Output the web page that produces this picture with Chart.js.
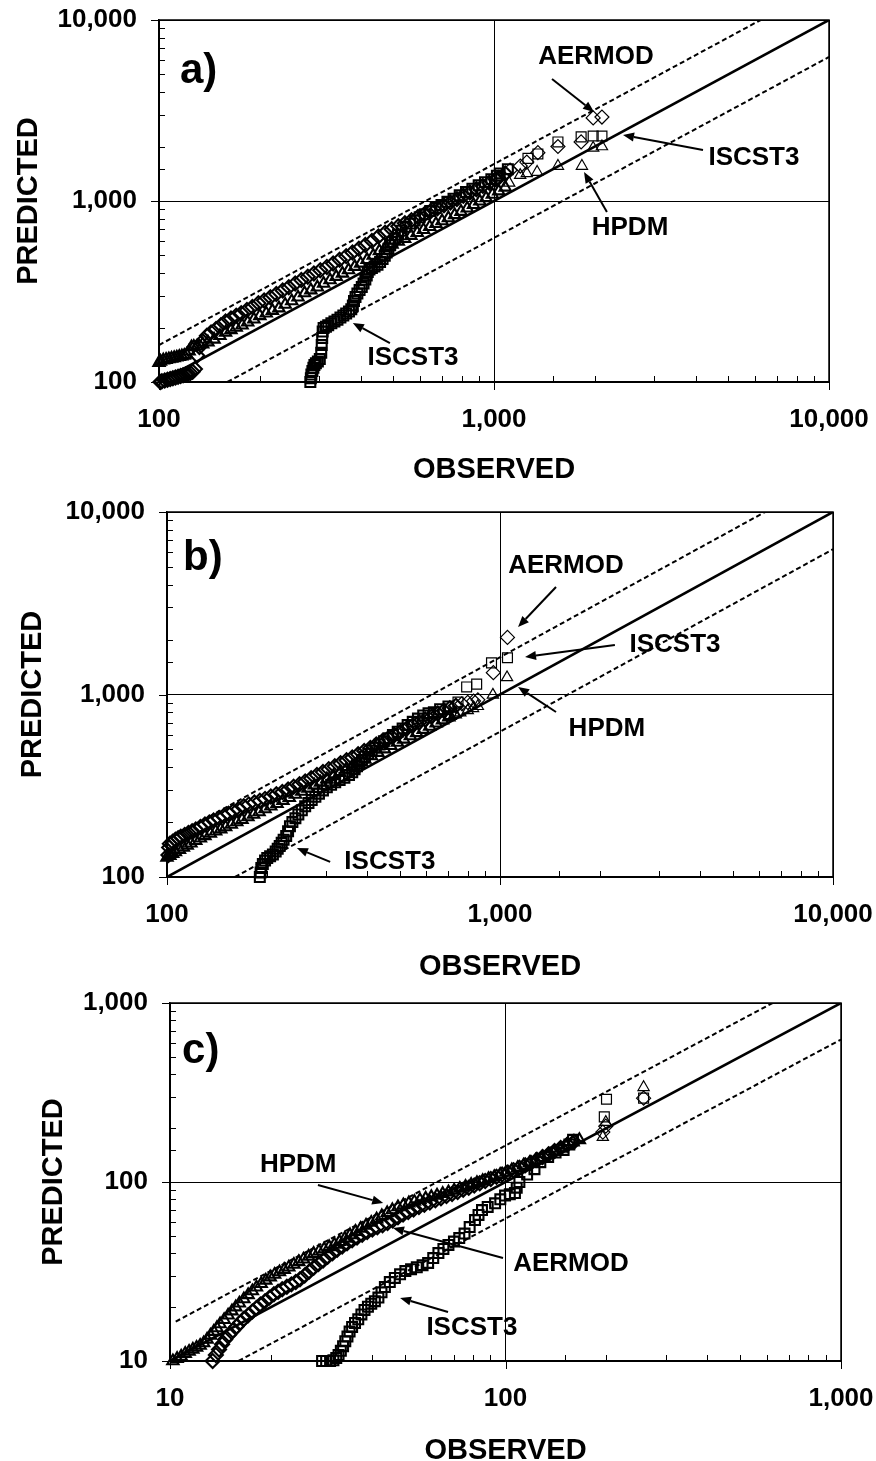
<!DOCTYPE html>
<html><head><meta charset="utf-8">
<script src="https://cdn.jsdelivr.net/npm/chart.js@4.4.1/dist/chart.umd.min.js"></script>
<style>
html,body{margin:0;padding:0;background:#fff;overflow:hidden;width:876px;height:1461px;}
canvas{position:absolute;left:0;}
</style></head><body>
<canvas id="ca" width="876" height="500" style="top:0px"></canvas>
<canvas id="cb" width="876" height="500" style="top:490px"></canvas>
<canvas id="cc" width="876" height="500" style="top:980px"></canvas>
<script>
// ---------- DATA: panel a) ----------
const aAERMOD = [[101,100],[102,101],[104,102],[106,103],[108,104],[110,105],[112,106],[114,107],[116,108],[118,109],[120,110],[122,111],[124,112],[126,114],[128,118],[130,140],[132,156],[135,168],[139,180],[143,188],[148,196],[153,206],[158,216],[164,224],[170,232],[176,240],[183,250],[190,260],[198,272],[206,282],[215,294],[224,306],[234,320],[244,334],[255,350],[266,366],[278,382],[290,398],[303,414],[317,432],[331,452],[346,474],[362,496],[378,520],[395,544],[413,572],[432,602],[452,636],[473,668],[495,698],[518,726],[542,754],[567,784],[593,815],[620,846],[648,880],[678,912],[709,946],[741,982],[775,1024],[810,1068],[847,1114],[886,1162],[926,1212],[968,1262],[1012,1320],[1030,1340],[1080,1420],[1117,1480],[1198,1560],[1253,1640],[1352,1850],[1552,2000],[1820,2120],[1977,2877],[2100,2910]];
const aHPDM = [[100,128],[101,130],[103,132],[105,133],[107,134],[109,135],[111,136],[113,137],[115,138],[117,139],[119,140],[121,142],[123,148],[125,156],[127,157],[130,158],[135,162],[140,166],[146,172],[152,180],[158,188],[164,194],[170,200],[177,206],[184,214],[192,222],[200,232],[209,240],[218,248],[228,256],[238,268],[249,280],[260,294],[272,310],[284,322],[297,334],[310,350],[324,366],[338,382],[353,398],[368,416],[384,434],[400,452],[418,474],[436,500],[455,530],[475,556],[496,576],[518,598],[541,620],[565,644],[590,668],[616,694],[643,720],[671,748],[700,776],[731,806],[763,838],[797,874],[832,912],[869,954],[907,996],[947,1040],[989,1086],[1033,1134],[1080,1190],[1110,1260],[1197,1390],[1253,1420],[1345,1445],[1552,1560],[1830,1560],[1977,1964],[2100,2000]];
const aISCST3 = [[283,100],[284,105],[285,110],[287,115],[289,120],[291,124],[294,127],[298,130],[302,134],[305,145],[306,160],[307,175],[308,190],[310,199],[315,202],[320,206],[327,211],[334,216],[341,221],[348,227],[355,233],[362,239],[369,245],[375,252],[379,265],[382,280],[386,295],[391,308],[397,322],[403,335],[408,350],[413,368],[417,388],[420,405],[425,418],[432,426],[440,434],[449,445],[457,460],[465,478],[472,498],[478,520],[484,545],[490,570],[497,595],[506,620],[517,650],[530,685],[545,720],[562,750],[580,780],[600,812],[622,845],[645,880],[670,915],[697,950],[726,990],[757,1030],[790,1075],[825,1120],[862,1170],[900,1220],[940,1270],[982,1320],[1020,1380],[1040,1420],[1100,1500],[1263,1720],[1352,1820],[1552,2120],[1820,2260],[1977,2286],[2100,2286]];
// ---------- DATA: panel b) ----------
const bAERMOD = [[101,132],[101.5,145],[102,152],[104,156],[106,160],[108,163],[110,166],[113,170],[116,174],[119,178],[122,182],[126,188],[130,194],[134,199],[138,204],[143,210],[148,216],[153,222],[158,229],[164,236],[170,244],[176,250],[183,256],[190,262],[197,268],[205,276],[213,284],[222,292],[231,302],[240,312],[250,322],[260,334],[271,348],[282,362],[294,376],[306,390],[319,404],[332,420],[346,436],[360,452],[375,470],[391,490],[408,510],[425,532],[443,554],[462,576],[482,600],[503,626],[525,652],[548,678],[572,704],[597,730],[623,758],[650,786],[678,814],[707,842],[737,868],[768,890],[800,906],[833,920],[858,935],[955,1317],[1053,2055]];
const bHPDM = [[100,128],[102,131],[104,134],[106,137],[109,141],[112,145],[115,149],[118,153],[122,158],[126,163],[130,168],[135,173],[140,178],[145,183],[150,188],[156,194],[162,200],[168,206],[175,213],[182,220],[189,227],[197,236],[205,244],[214,252],[223,262],[233,272],[243,283],[254,294],[265,306],[277,318],[289,330],[302,344],[316,358],[330,373],[345,389],[360,405],[376,422],[393,440],[411,460],[430,480],[450,502],[470,524],[492,546],[514,568],[538,592],[562,616],[588,642],[615,668],[643,696],[672,724],[702,752],[707,765],[733,780],[760,795],[800,818],[830,840],[858,862],[952,995],[1050,1240]];
const bISCST3 = [[190,100],[191,106],[192,112],[194,118],[197,123],[200,127],[204,130],[208,133],[212,138],[215,143],[218,148],[221,154],[224,160],[228,168],[231,178],[234,190],[238,200],[243,210],[248,220],[254,232],[260,244],[266,254],[272,264],[279,275],[286,286],[294,298],[302,310],[311,320],[320,330],[330,340],[341,350],[352,362],[360,375],[366,390],[372,405],[378,420],[385,438],[393,456],[402,474],[412,492],[423,512],[435,532],[448,554],[462,576],[477,600],[493,625],[510,652],[528,680],[547,708],[567,738],[588,768],[610,790],[633,800],[661,830],[700,860],[748,910],[794,1100],[851,1140],[943,1490],[1053,1590]];
// ---------- DATA: panel c) ----------
const cAERMOD = [[13.4,10],[13.7,10.8],[14.0,11.6],[14.3,12.4],[14.6,13.2],[15.0,14],[15.4,14.8],[15.8,15.6],[16.2,16.4],[16.6,17.2],[17.1,18],[17.6,18.9],[18.1,19.8],[18.6,20.7],[19.2,21.6],[19.8,22.6],[20.4,23.6],[21.0,24.4],[21.6,25.2],[22.3,26],[23.0,26.8],[23.7,27.6],[24.4,28.6],[25.2,30],[26.0,31.6],[26.8,33.2],[27.7,34.8],[28.6,36.4],[29.5,38.2],[30.5,40],[31.5,41.8],[32.6,43.6],[33.7,45.4],[34.9,47.2],[36.1,49],[37.4,50.8],[38.7,52.6],[40.1,54.2],[41.5,55.8],[43,57.4],[44.5,59],[46.1,61],[47.8,63.5],[49.5,65.8],[51.3,68],[53.2,70.2],[55.2,72.4],[57.3,74.6],[59.5,76.8],[61.8,79],[64.2,81.2],[66.7,83.4],[69.3,85.6],[72,88],[74.8,90.4],[77.7,93],[80.7,95.6],[83.8,98.4],[87,101.2],[90.4,104],[94,107],[97.7,110],[101.6,113],[105.7,116.5],[110,120],[114.5,124],[119,128],[124,133],[129,138],[134.5,143],[140,149],[146,155],[153,162],[160,168],[195,190],[199,205],[258,294]];
const cHPDM = [[10.2,10],[10.5,10.3],[10.8,10.6],[11.1,11],[11.4,11.3],[11.7,11.6],[12.0,11.9],[12.3,12.2],[12.6,12.6],[12.9,13.2],[13.2,13.9],[13.5,14.6],[13.8,15.3],[14.1,16.1],[14.5,17],[14.9,18],[15.3,19],[15.7,20],[16.1,21],[16.6,22.2],[17.1,23.4],[17.6,24.6],[18.1,25.8],[18.7,27],[19.3,28.2],[19.9,29.4],[20.5,30.4],[21.2,31.4],[21.9,32.4],[22.6,33.4],[23.4,34.6],[24.2,35.8],[25.0,37],[25.9,38.4],[26.8,39.8],[27.8,41],[28.8,42.2],[29.8,43.4],[30.9,44.8],[32.0,46.4],[33.2,48.4],[34.4,50.6],[35.7,52.8],[37.0,55],[38.4,57.2],[39.8,59.4],[41.3,62],[42.8,64.6],[44.4,67.2],[46.0,69.8],[47.8,72.5],[49.6,74.4],[51.5,76.2],[53.5,77.8],[55.6,79.4],[57.8,81],[60.1,82.6],[62.5,84.2],[65,86],[67.6,87.8],[70.3,89.8],[73.1,92],[76,94.2],[79,96.6],[82.2,99],[85.5,101.6],[89,104.2],[92.6,107],[96.4,110],[100.3,113],[104.4,116.5],[108.7,120],[113.2,124],[118,128],[123,132],[128.5,137],[134,142],[140,148],[146,154],[152,160],[159,167],[166,172],[195,178],[199,216],[258,338]];
const cISCST3 = [[28.4,10],[29.2,10],[30.0,10],[30.7,10.1],[31.3,10.4],[31.8,10.8],[32.3,11.4],[32.8,12.1],[33.3,12.9],[33.8,13.7],[34.3,14.6],[34.9,15.5],[35.6,16.3],[36.4,17.1],[37.2,18.2],[38.0,19.3],[38.9,20.1],[39.8,20.9],[40.8,21.6],[41.8,22.6],[42.7,24.2],[43.7,25.9],[45.2,27.6],[46.8,29.1],[48.5,30.5],[50.3,31.8],[52.3,32.6],[54.4,33.4],[56.6,34.3],[58.8,35.3],[60.9,37.6],[63.1,40.1],[65.3,42.3],[67.6,44.5],[70.2,46.5],[72.8,48.6],[75.5,51.5],[78.2,56],[81.1,61.3],[83.1,65.5],[85.1,69.7],[88.5,72.6],[93.1,76],[96.5,80],[99.7,84],[103,85.5],[106.7,86.7],[108,93],[110,100],[116,110],[122,118],[127,129],[134,138],[141,146],[149,151],[155,162],[159,172],[197,231],[200,290],[258,294]];
// ---------- reference lines (1:1 and band) ----------
const abOneToOne = [[100,100],[10000,10000]];
const abUpper = [[100,160],[6250,10000]];
const abLower = [[160,100],[10000,6250]];
const cOneToOne = [[10,10],[1000,1000]];
const cUpper = [[10.4,16.6],[625,1000]];
const cLower = [[16,10],[1000,625]];
// ---------- axis ranges & texts ----------
const abRange = [100, 10000];
const cRange = [10, 1000];
const xTitle = 'OBSERVED';
const yTitle = 'PREDICTED';

// ---------- annotations (data-space anchors) ----------
const annA = {
  labels: [
    {text:'a)', x:115.5, y:4487, size:42, align:'left', baseline:'alphabetic'},
    {text:'AERMOD', x:2016, y:6247, size:26},
    {text:'ISCST3', x:5970, y:1728, size:26},
    {text:'HPDM', x:2547, y:710, size:26},
    {text:'ISCST3', x:573, y:136, size:26}
  ],
  arrows: [
    {from:[1490,4720], to:[1989,3103]},
    {from:[4207,1913], to:[2427,2315]},
    {from:[2173,869], to:[1857,1445]},
    {from:[489,164], to:[379,212]}
  ]
};
const annB = {
  labels: [
    {text:'b)', x:111.7, y:4808, size:42, align:'left', baseline:'alphabetic'},
    {text:'AERMOD', x:1578, y:5058, size:26},
    {text:'ISCST3', x:3353, y:1867, size:26},
    {text:'HPDM', x:2094, y:647, size:26},
    {text:'ISCST3', x:467, y:121, size:26}
  ],
  arrows: [
    {from:[1473,3882], to:[1133,2343]},
    {from:[2213,1867], to:[1189,1605]},
    {from:[1473,802], to:[1133,1099]},
    {from:[309,121], to:[245.5,144]}
  ]
};
const annC = {
  labels: [
    {text:'c)', x:10.86, y:462, size:42, align:'left', baseline:'alphabetic'},
    {text:'HPDM', x:24.1, y:124.4, size:26},
    {text:'AERMOD', x:156.7, y:34.8, size:26},
    {text:'ISCST3', x:79.4, y:15.3, size:26}
  ],
  arrows: [
    {from:[27.6,96.2], to:[43.2,76.3]},
    {from:[98.3,37.6], to:[46.2,55.3]},
    {from:[67.4,18.8], to:[48.5,22.5]}
  ]
};

// ---------- rendering ----------
const FONT = "'Liberation Sans', Arial, Helvetica, sans-serif";
Chart.defaults.font.family = FONT;
Chart.defaults.color = '#000';

function isMajor(v){ const l = Math.log10(v); return Math.abs(l - Math.round(l)) < 1e-6; }
const toXY = arr => arr.map(p => ({x:p[0], y:p[1]}));

function drawArrow(ctx, x1, y1, x2, y2){
  const ang = Math.atan2(y2 - y1, x2 - x1);
  const L = 11, W = 4.5;
  const bx = x2 - L*Math.cos(ang), by = y2 - L*Math.sin(ang);
  ctx.beginPath(); ctx.moveTo(x1, y1); ctx.lineTo(bx, by); ctx.stroke();
  ctx.beginPath();
  ctx.moveTo(x2, y2);
  ctx.lineTo(bx + W*Math.sin(ang), by - W*Math.cos(ang));
  ctx.lineTo(bx - W*Math.sin(ang), by + W*Math.cos(ang));
  ctx.closePath(); ctx.fill();
}

function makePanel(id, geo, series, lines, range, ann){
  const decor = {
    id: 'decor' + id,
    afterDatasetsDraw(chart){
      const ctx = chart.ctx, a = chart.chartArea, xs = chart.scales.x, ys = chart.scales.y;
      ctx.save();
      ctx.strokeStyle = '#000'; ctx.fillStyle = '#000';
      ctx.lineWidth = 1;
      ctx.beginPath();
      xs.ticks.forEach(t => {
        const p = Math.round(xs.getPixelForValue(t.value)) + 0.5;
        if (isMajor(t.value)) { ctx.moveTo(p, a.bottom); ctx.lineTo(p, a.bottom + 8); }
        else { ctx.moveTo(p, a.bottom); ctx.lineTo(p, a.bottom - 6); }
      });
      ys.ticks.forEach(t => {
        const p = Math.round(ys.getPixelForValue(t.value)) + 0.5;
        if (isMajor(t.value)) { ctx.moveTo(a.left, p); ctx.lineTo(a.left - 8, p); }
        else { ctx.moveTo(a.left, p); ctx.lineTo(a.left + 6, p); }
      });
      ctx.stroke();
      ctx.lineWidth = 1.5;
      ctx.strokeRect(a.left, a.top, a.right - a.left, a.bottom - a.top);
      ann.labels.forEach(l => {
        ctx.font = 'bold ' + l.size + 'px ' + FONT;
        ctx.textAlign = l.align || 'center';
        ctx.textBaseline = l.baseline || 'middle';
        ctx.fillText(l.text, xs.getPixelForValue(l.x), ys.getPixelForValue(l.y));
      });
      ctx.lineWidth = 2;
      ann.arrows.forEach(r => drawArrow(ctx, xs.getPixelForValue(r.from[0]), ys.getPixelForValue(r.from[1]), xs.getPixelForValue(r.to[0]), ys.getPixelForValue(r.to[1])));
      ctx.restore();
    }
  };
  // dense part of each Q-Q curve drawn with heavier outlines (overlapping symbols look black)
  const bw = c => (c.raw && c.raw.x > geo.sparseX) ? 1.2 : 2.1;
  const markerDs = (pts, style, radius) => ({
    data: toXY(pts), showLine: false, pointStyle: style, pointRadius: radius,
    pointBorderColor: '#000', pointBackgroundColor: 'rgba(0,0,0,0)', pointBorderWidth: bw,
    clip: false, order: 0
  });
  const lineDs = (pts, width, dash) => ({
    data: toXY(pts), showLine: true, borderColor: '#000', borderWidth: width, borderDash: dash,
    pointRadius: 0, fill: false, order: 1
  });
  const tickCb = v => isMajor(v) ? Number(v).toLocaleString('en-US') : '';
  const gridCol = c => (c.tick && isMajor(c.tick.value)) ? '#000' : 'rgba(0,0,0,0)';
  const axisBase = {
    type: 'logarithmic', min: range[0], max: range[1],
    border: {display: true, color: '#000', width: 1.5},
    grid: {drawOnChartArea: true, drawTicks: true, tickLength: 22, color: gridCol, tickColor: 'rgba(0,0,0,0)', lineWidth: 1},
    ticks: {callback: tickCb, autoSkip: false, maxRotation: 0, minRotation: 0, padding: 0, font: {size: 26, weight: 'bold'}, color: '#000'}
  };
  const canvas = document.getElementById(id);
  return new Chart(canvas, {
    type: 'scatter',
    data: {
      datasets: [
        markerDs(series.isc, 'rect', 7),
        markerDs(series.hpdm, 'triangle', 6.5),
        markerDs(series.aermod, 'rectRot', 7),
        lineDs(lines.one, 2.6, []),
        lineDs(lines.up, 2, [5, 3]),
        lineDs(lines.lo, 2, [5, 3])
      ]
    },
    options: {
      responsive: false, animation: false, devicePixelRatio: 1, events: [],
      layout: {padding: {left: 0, top: geo.top, right: geo.right, bottom: 0}},
      plugins: {legend: {display: false}, tooltip: {enabled: false}},
      scales: {
        x: Object.assign({}, axisBase, {
          position: 'bottom',
          title: {display: true, text: xTitle, font: {size: 29, weight: 'bold'}, color: '#000', padding: {top: 0, bottom: geo.xTitlePad}},
          afterFit: s => { s.height = geo.xAxisH; }
        }),
        y: Object.assign({}, axisBase, {
          position: 'left',
          title: {display: true, text: yTitle, font: {size: 29, weight: 'bold'}, color: '#000', padding: {top: geo.yTitlePad, bottom: 0}},
          afterFit: s => { s.width = geo.left; }
        })
      }
    },
    plugins: [decor]
  });
}

makePanel('ca', {top: 20, right: 876 - 829, left: 159, xAxisH: 500 - 382, xTitlePad: 12.6, yTitlePad: 11.6, sparseX: 1100},
  {aermod: aAERMOD, hpdm: aHPDM, isc: aISCST3}, {one: abOneToOne, up: abUpper, lo: abLower}, abRange, annA);
makePanel('cb', {top: 22, right: 876 - 833, left: 167, xAxisH: 500 - 387, xTitlePad: 5.6, yTitlePad: 15.6, sparseX: 740},
  {aermod: bAERMOD, hpdm: bHPDM, isc: bISCST3}, {one: abOneToOne, up: abUpper, lo: abLower}, abRange, annB);
makePanel('cc', {top: 23, right: 876 - 841, left: 170, xAxisH: 500 - 381, xTitlePad: 11.6, yTitlePad: 36.6, sparseX: 170},
  {aermod: cAERMOD, hpdm: cHPDM, isc: cISCST3}, {one: cOneToOne, up: cUpper, lo: cLower}, cRange, annC);
</script>
</body></html>
